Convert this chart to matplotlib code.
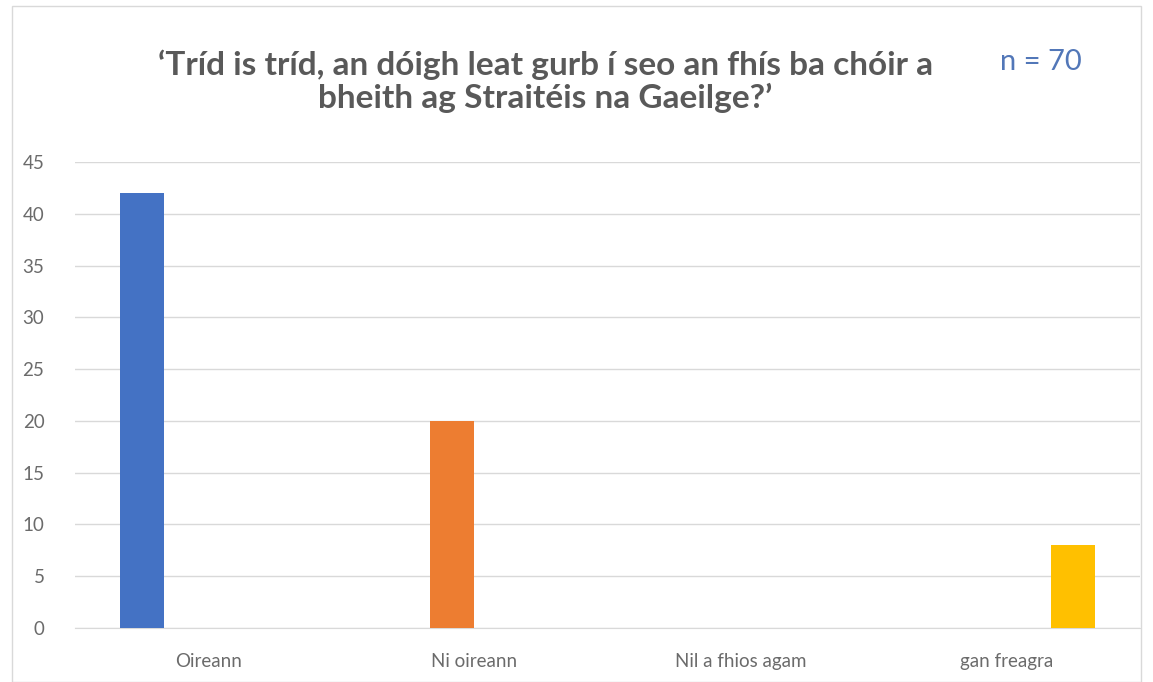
import matplotlib.pyplot as plt
import numpy as np
from matplotlib.patches import Rectangle

# answer categories and number of responses
categories = ['Oireann', 'Ni oireann', 'Nil a fhios agam', 'gan freagra']
counts = [42, 20, 0, 8]
colors = ['#4472C4', '#ED7D31', '#A5A5A5', '#FFC000']
n_total = 70

plt.rcParams['font.family'] = ['Lato', 'DejaVu Sans']

fig = plt.figure(figsize=(11.53, 6.82), dpi=100)
ax = fig.add_axes([75 / 1153, 1 - 628 / 682, (1140 - 75) / 1153, (628 - 162) / 682])

# each answer is its own series, so the bars sit side by side inside the group
x = np.arange(len(categories))
w = 0.165
nser = len(categories)
for i in range(nser):
    vals = [counts[i] if j == i else 0 for j in range(len(categories))]
    offs = (i - (nser - 1) / 2) * w
    ax.bar(x + offs, vals, width=w, color=colors[i], zorder=3)

ax.set_xlim(-0.5, len(categories) - 0.5)
ax.set_ylim(0, 45)
ax.set_yticks(range(0, 46, 5))
ax.set_xticks(x)
ax.set_xticklabels(categories)
ax.grid(axis='y', color='#D9D9D9', linewidth=1, zorder=0)
for s in ax.spines.values():
    s.set_visible(False)
ax.spines['bottom'].set_visible(True)
ax.spines['bottom'].set_color('#D9D9D9')
ax.tick_params(length=0, colors='#6B6B6B', labelsize=13.5)
ax.tick_params(axis='x', pad=18)
ax.tick_params(axis='y', pad=22)

fig.text(0.473, 1 - 81 / 682, "\u2018Tríd is tríd, an dóigh leat gurb í seo an fhís ba chóir a\nbheith ag Straitéis na Gaeilge?\u2019",
         ha='center', va='center', fontsize=24, fontweight='bold', color='#595959', linespacing=1.1)
fig.text(1000 / 1153, 1 - 62 / 682, f'n = {n_total}', ha='left', va='center',
         fontsize=21, color='#5277B8')

# light frame around the chart
fig.patches.append(Rectangle((12 / 1153, 0.0), 1 - 24 / 1153, 1 - 6 / 682, transform=fig.transFigure,
                             fill=False, edgecolor='#D9D9D9', linewidth=1))

fig.savefig('out.png', dpi=100)
